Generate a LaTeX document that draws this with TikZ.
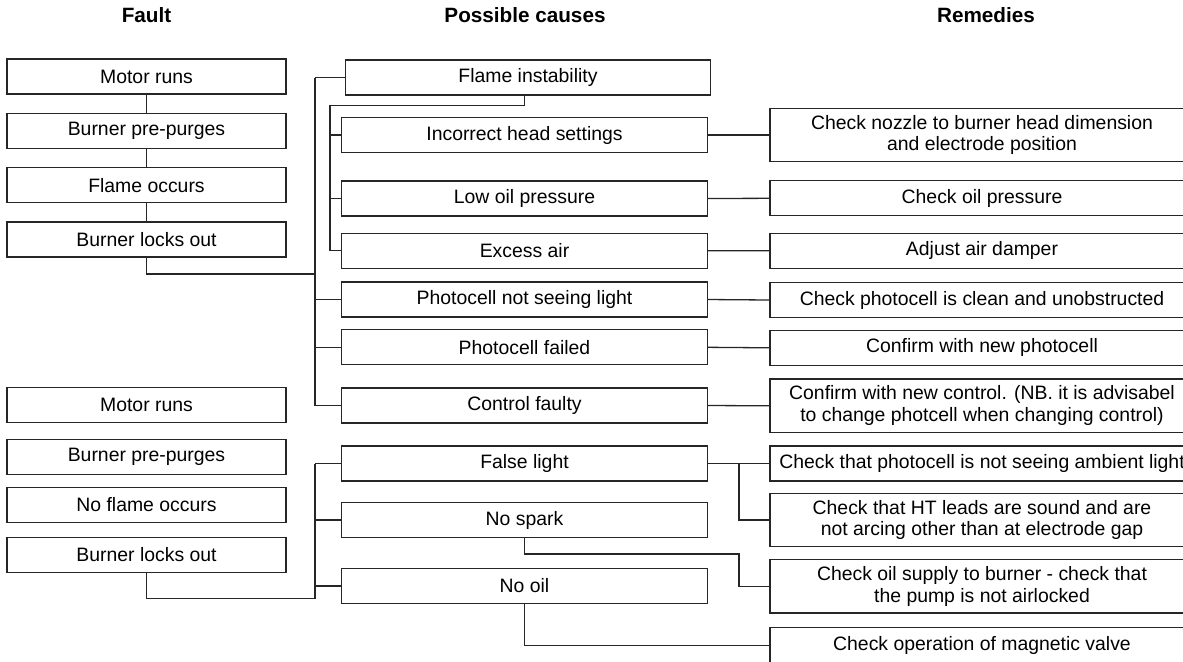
\documentclass[tikz,border=0pt]{standalone}
\usepackage{fontspec}
\setmainfont{Liberation Sans}
\usetikzlibrary{positioning, calc}

\begin{document}
\begin{tikzpicture}[
    x=0.5pt, y=-0.5pt,
    line width=0.65pt,
    font=\fontsize{9.7}{10.9}\selectfont,
    box/.style={draw=black!85, minimum height=17.5pt,
                inner sep=1pt, align=center},
    fault/.style={box, minimum width=139.5pt},
    cause/.style={box, minimum width=182.8pt},
    remedy/.style={box, minimum width=212pt},
    tall/.style={minimum height=26.7pt},
    colhead/.style={font=\fontsize{10.35}{12}\selectfont\bfseries,
                    anchor=base},
    link/.style={draw=black!85},
]
\useasboundingbox (0,0) rectangle (1183,661);
\clip (0,0) rectangle (1183,661);

% ---------------- Column headings ----------------------------------------
\node[colhead] (hfault)  at (146.5,22.7) {Fault};
\node[colhead] (hcauses) at (525,22.7)   {Possible causes};
\node[colhead] (hremed)  at (986,22.7)   {Remedies};

% ---------------- Fault: flame occurs, then lock-out ---------------------
\node[fault] (f1) at (146.5,76.5) {Motor runs};
\node[fault, below=9pt of f1] (f2) {Burner pre-purges};
\node[fault, below=9pt of f2] (f3) {Flame occurs};
\node[fault, below=9pt of f3] (f4) {Burner locks out};

\draw[link] (f1) -- (f2);
\draw[link] (f2) -- (f3);
\draw[link] (f3) -- (f4);

% ---------------- Fault: no flame, then lock-out -------------------------
\node[fault] (g1) at (146.5,405) {Motor runs};
\node[fault] (g2) at (146.5,457) {Burner pre-purges};
\node[fault] (g3) at (146.5,505) {No flame occurs};
\node[fault] (g4) at (146.5,555) {Burner locks out};

% ---------------- Possible causes ----------------------------------------
\node[cause] (cflame)  at (528,77.5)   {Flame instability};
\node[cause] (chead)   at (524.5,135)  {Incorrect head settings};
\node[cause] (clow)    at (524.5,198.5) {Low oil pressure};
\node[cause] (cexcess) at (524.5,250.7) {Excess air};
\node[cause] (cnosee)  at (524.5,299.5) {Photocell not seeing light};
\node[cause] (cpfail)  at (524.5,347.3) {Photocell failed};
\node[cause] (cctrl)   at (524.5,405.5) {Control faulty};
\node[cause] (cfalse)  at (524.5,463.5) {False light};
\node[cause] (cspark)  at (524.5,520)   {No spark};
\node[cause] (coil)    at (524.5,586)   {No oil};

% ---------------- Remedies -----------------------------------------------
\node[remedy, tall] (rnozzle) at (982,135)
    {Check nozzle to burner head dimension\\and electrode position};
\node[remedy] (roilp)   at (982,198.3) {Check oil pressure};
\node[remedy] (rdamper) at (982,250.8) {Adjust air damper};
\node[remedy] (rclean)  at (982,300)   {Check photocell is clean and unobstructed};
\node[remedy] (rnewpc)  at (982,347.8) {Confirm with new photocell};
\node[remedy, tall] (rnewctl) at (982,405.8)
    {Confirm with new control. (NB. it is advisabel\\to change photcell when changing control)};
\node[remedy] (rambient) at (982,463.5) {Check that photocell is not seeing ambient light};
\node[remedy, tall] (rleads) at (982,520)
    {Check that HT leads are sound and are\\not arcing other than at electrode gap};
\node[remedy, tall] (rsupply) at (982,586.3)
    {Check oil supply to burner - check that\\the pump is not airlocked};
\node[remedy] (rvalve)  at (982,645.2) {Check operation of magnetic valve};

% ---------------- Trunks from the faults to the causes --------------------
\coordinate (tA) at (315,274);
\coordinate (tB) at (330,105.7);
\coordinate (tC) at (739,554);
\coordinate (tD) at (315,598.7);

\draw[link] (f4.south) |- (tA);
\draw[link] (tA |- cflame.west) -- (tA |- cctrl.west);
\foreach \c in {cflame, cnosee, cpfail, cctrl} {%
    \draw[link] (tA |- \c.west) -- (\c.west);
}

% flame instability splits into three sub-causes
\draw[link] (chead |- cflame.south) |- (tB) -- (tB |- cexcess.west);
\foreach \c in {chead, clow, cexcess} {%
    \draw[link] (tB |- \c.west) -- (\c.west);
}

\draw[link] (g4.south) |- (tD) -- (tD |- cfalse.west);
\foreach \c in {cfalse, cspark, coil} {%
    \draw[link] (tD |- \c.west) -- (\c.west);
}

% ---------------- Causes to remedies -------------------------------------
\draw[link] (chead.east)   -- (rnozzle.west);
\draw[link] (clow.east)    -- (roilp.west);
\draw[link] (cexcess.east) -- (rdamper.west);
\draw[link] (cnosee.east)  -- (rclean.west);
\draw[link] (cpfail.east)  -- (rnewpc.west);
\draw[link] (cctrl.east)   -- (rnewctl.west);
\draw[link] (cfalse.east)  -- (rambient.west);
\draw[link] (tC |- cfalse.east) |- (rleads.west);
\draw[link] (cspark.south) |- (tC) |- (rsupply.west);
\draw[link] (coil.south)   |- (rvalve.west);

\end{tikzpicture}
\end{document}
